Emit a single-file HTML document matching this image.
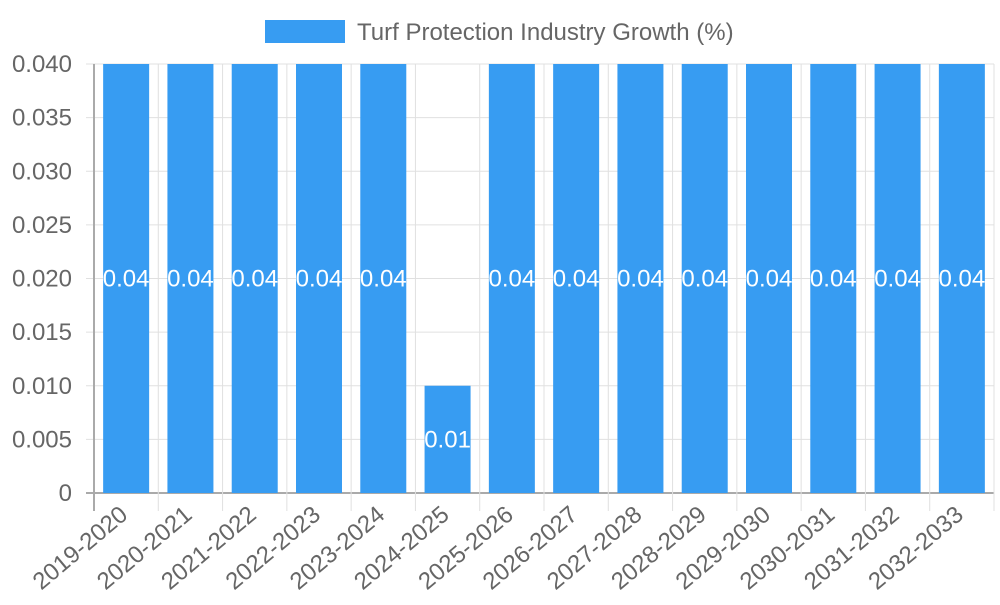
<!DOCTYPE html>
<html><head><meta charset="utf-8"><style>
body{margin:0;background:#fff}
svg{font-family:"Liberation Sans",sans-serif}
</style></head><body>
<svg id="chart" width="1000" height="600" xmlns="http://www.w3.org/2000/svg">
<g>
<rect x="265" y="20" width="80" height="23" fill="#379cf2"/>
<text x="357" y="40" font-size="24" fill="#666">Turf Protection Industry Growth (%)</text>
</g>
<g id="grid"></g><g id="bars"></g><g id="labels"></g>
</svg>
<script>
const categories=["2019-2020","2020-2021","2021-2022","2022-2023","2023-2024","2024-2025","2025-2026","2026-2027","2027-2028","2028-2029","2029-2030","2030-2031","2031-2032","2032-2033"];
const values=[0.04,0.04,0.04,0.04,0.04,0.01,0.04,0.04,0.04,0.04,0.04,0.04,0.04,0.04];
const valueLabels=["0.04","0.04","0.04","0.04","0.04","0.01","0.04","0.04","0.04","0.04","0.04","0.04","0.04","0.04"];
const yTicks=[0,0.005,0.010,0.015,0.020,0.025,0.030,0.035,0.040];
const yTickLabels=["0","0.005","0.010","0.015","0.020","0.025","0.030","0.035","0.040"];
const NS="http://www.w3.org/2000/svg";
const L=94,R=994,T=64,B=493,yMax=0.04;
const y=v=>B-(v/yMax)*(B-T);
const band=(R-L)/categories.length;
const x=i=>L+band*i;
function mk(tag,attrs,parent){const e=document.createElementNS(NS,tag);for(const k in attrs)e.setAttribute(k,attrs[k]);parent.appendChild(e);return e;}
const grid=document.getElementById('grid'),bars=document.getElementById('bars'),labels=document.getElementById('labels');
yTicks.forEach((t,i)=>{
 const l=mk('line',{x1:L-8,x2:R,y1:y(t),y2:y(t),stroke:i==0?'#aaa':'#e0e0e0','stroke-width':i==0?2:1},grid);
 
 
 const tx=mk('text',{x:L-22,y:y(t)+8,'text-anchor':'end','font-size':24,fill:'#666'},labels);
 tx.textContent=yTickLabels[i];
 
 
});
for(let i=0;i<=categories.length;i++){
 const l=mk('line',{x1:x(i),x2:x(i),y1:T,y2:B+18,stroke:i==0?'#aaa':'#e0e0e0','stroke-width':i==0?2:1},grid);
 
 
}
categories.forEach((c,i)=>{
 const bw=46,cx=x(i)+band/2;
 const r=mk('rect',{x:cx-bw/2,y:y(values[i]),width:bw,height:B-y(values[i]),fill:'#379cf2'},bars);
 
 
 const vt=mk('text',{x:cx,y:(y(values[i])+B)/2+8,'text-anchor':'middle','font-size':24,fill:'#fff'},labels);
 vt.textContent=valueLabels[i];
 
 
 const ct=mk('text',{x:0,y:0,'text-anchor':'end','font-size':24,fill:'#666',transform:`translate(${cx+3},${B+24}) rotate(-40)`},labels);
 ct.textContent=c;
 
 
});
</script>
</body></html>
